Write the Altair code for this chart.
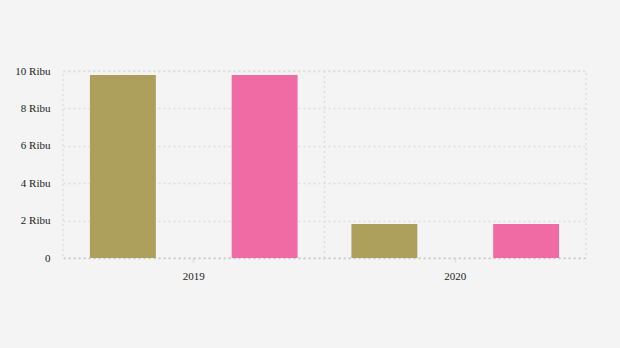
import altair as alt
import pandas as pd

years = ["2019", "2020"]
series = ["Seri A", "Seri B"]
values_a = [9786, 1818]
values_b = [9786, 1818]
colors = ["#ACA05C", "#F06AA4"]
y_ticks = [0, 2000, 4000, 6000, 8000, 10000]

rows = []
for i, yr in enumerate(years):
    rows.append({"year": yr, "series": series[0], "value": values_a[i]})
    rows.append({"year": yr, "series": series[1], "value": values_b[i]})
df = pd.DataFrame(rows)
grid_df = pd.DataFrame({"year": years[1:]})

FONT = "Liberation Serif"
GRID = "#dedede"

x_axis = alt.Axis(title=None, labelAngle=0, grid=False, domain=False,
                  ticks=True, tickSize=4, tickColor="#dddddd", tickWidth=1.5,
                  bandPosition=0.5, labelAlign="center",
                  labelPadding=8, labelFont=FONT, labelFontSize=11,
                  labelColor="#222222")

bars = alt.Chart(df).mark_bar().encode(
    x=alt.X("year:N", sort=years,
            scale=alt.Scale(paddingInner=0, paddingOuter=0),
            axis=x_axis),
    xOffset=alt.XOffset("series:N", sort=series,
                        scale=alt.Scale(paddingInner=0.535, paddingOuter=0.19)),
    y=alt.Y("value:Q", scale=alt.Scale(domain=[0, 10000], nice=False),
            axis=alt.Axis(title=None, values=y_ticks, domain=False, ticks=False,
                          labelPadding=13, grid=True,
                          gridColor={"condition": {"test": "datum.value === 0", "value": "#c8c8c8"},
                                     "value": GRID},
                          gridDash=[2, 3], gridWidth=1.5,
                          labelExpr="datum.value == 0 ? '0' : (datum.value/1000) + ' Ribu'",
                          labelFont=FONT, labelFontSize=11, labelColor="#222222")),
    color=alt.Color("series:N", sort=series,
                    scale=alt.Scale(domain=series, range=colors), legend=None),
)

vgrid = alt.Chart(grid_df).mark_rule(color=GRID, strokeDash=[2, 3], strokeWidth=1.5).encode(
    x=alt.X("year:N", bandPosition=0, sort=years, axis=x_axis),
)

chart = alt.layer(vgrid, bars).properties(
    width=523, height=187,
    background="#f4f4f4",
    padding={"left": 63, "top": 71, "right": 34, "bottom": 90},
    autosize=alt.AutoSizeParams(type="none"),
).configure_view(stroke=GRID, strokeDash=[2, 3], strokeWidth=1.5)

chart.save("out.html", embed_options={"renderer": "svg", "actions": False})
